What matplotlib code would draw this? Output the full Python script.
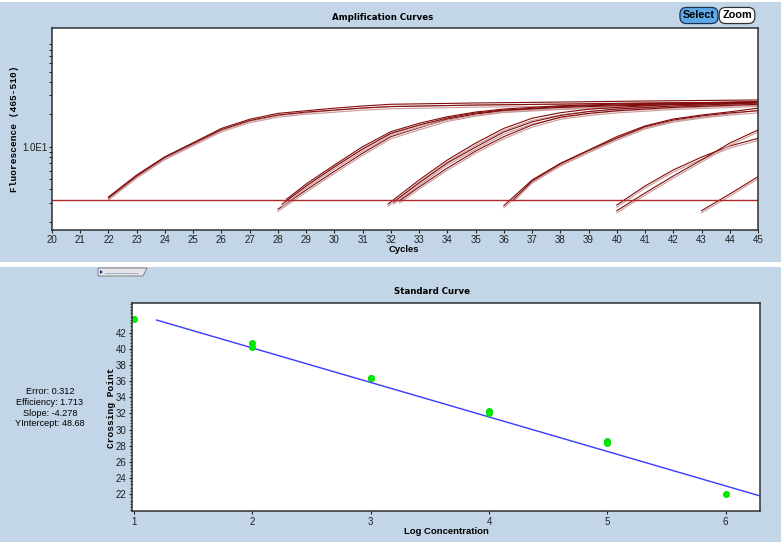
import matplotlib
matplotlib.use("Agg")
import matplotlib.pyplot as plt
from matplotlib.patches import Rectangle, Polygon
from matplotlib.ticker import FixedLocator, LogLocator, MultipleLocator, NullFormatter

plt.rcParams["font.family"] = ["Liberation Sans", "DejaVu Sans"]

W, H = 783, 545

# --- amplification curves (cycle, fluorescence) ---
cyc_a1 = [22.0, 23, 24, 25, 26, 27, 28, 29, 30, 31, 32, 35, 38, 41, 45]
flu_a1 = [3.41, 5.46, 8.07, 10.9, 14.8, 18.0, 20.4, 21.6, 22.8, 23.9, 24.8, 25.5, 26.0, 26.6, 27.2]
cyc_a2 = [22.0, 23, 24, 25, 26, 27, 28, 29, 30, 31, 32, 35, 38, 41, 45]
flu_a2 = [3.34, 5.34, 7.95, 10.7, 14.4, 17.5, 19.7, 21.0, 21.9, 22.9, 23.6, 24.4, 24.9, 25.5, 26.0]

cyc_b1 = [28.3, 29, 30, 31, 32, 33, 34, 35, 36, 38, 40, 45]
flu_b1 = [3.24, 4.50, 6.76, 10.0, 13.8, 16.5, 19.0, 21.0, 22.4, 24.0, 24.9, 26.2]
cyc_b2 = [28.0, 29, 30, 31, 32, 33, 34, 35, 36, 38, 40, 45]
flu_b2 = [2.62, 3.96, 5.90, 8.70, 12.4, 15.0, 18.0, 20.1, 21.8, 23.2, 24.0, 25.5]
cyc_b3 = [28.15, 29, 30, 31, 32, 33, 34, 35, 36, 38, 40, 45]
flu_b3 = [2.93, 4.31, 6.50, 9.50, 13.3, 15.9, 18.5, 20.6, 21.9, 23.6, 24.5, 25.8]

cyc_c1 = [31.9, 33, 34, 35, 36, 37, 38, 39, 40, 42, 45]
flu_c1 = [2.93, 4.90, 7.52, 10.8, 14.8, 18.4, 20.7, 22.3, 23.2, 24.8, 26.2]
cyc_c2 = [32.1, 33, 34, 35, 36, 37, 38, 39, 40, 42, 45]
flu_c2 = [3.06, 4.60, 7.06, 9.90, 13.7, 17.0, 19.5, 21.2, 22.4, 23.9, 25.5]
cyc_c3 = [32.3, 33, 34, 35, 36, 37, 38, 39, 40, 42, 45]
flu_c3 = [3.13, 4.22, 6.34, 9.10, 12.4, 15.9, 18.8, 20.4, 21.6, 23.2, 24.8]

cyc_d1 = [36.0, 37, 38, 39, 40, 41, 42, 43, 44, 45]
flu_d1 = [2.83, 4.90, 7.00, 9.30, 12.4, 15.6, 18.1, 19.7, 21.1, 22.8]
cyc_d2 = [36.35, 37, 38, 39, 40, 41, 42, 43, 44, 45]
flu_d2 = [3.24, 4.80, 6.91, 9.20, 12.0, 15.3, 17.7, 19.3, 20.6, 21.6]

cyc_e1 = [40.0, 41, 42, 43, 44, 45]
flu_e1 = [2.87, 4.31, 6.08, 8.00, 10.15, 11.95]
cyc_e2 = [40.0, 41, 42, 43, 44, 45]
flu_e2 = [2.54, 3.71, 5.34, 7.52, 10.8, 14.3]

cyc_f1 = [43.0, 44, 45]
flu_f1 = [2.54, 3.63, 5.26]

threshold = 3.2

curves = [(cyc_a1, flu_a1), (cyc_a2, flu_a2), (cyc_b1, flu_b1), (cyc_b2, flu_b2),
          (cyc_b3, flu_b3), (cyc_c1, flu_c1), (cyc_c2, flu_c2), (cyc_c3, flu_c3),
          (cyc_d1, flu_d1), (cyc_d2, flu_d2), (cyc_e1, flu_e1), (cyc_e2, flu_e2),
          (cyc_f1, flu_f1)]

# --- standard curve ---
log_conc = [1, 2, 2, 3, 3, 4, 4, 5, 5, 6]
cross_pt = [43.75, 40.75, 40.3, 36.45, 36.35, 32.25, 32.1, 28.55, 28.35, 21.95]
fit_x = [1.19, 6.28]
fit_y = [43.59, 21.81]
stats = ["Error: 0.312", "Efficiency: 1.713", "Slope: -4.278", "YIntercept: 48.68"]


def fx(px):
    return px / W


def fy(py):
    return 1 - py / H


fig = plt.figure(figsize=(W / 100, H / 100), dpi=100, facecolor="white")

# blue panels behind both plots
panel = "#c3d6e7"
for y0, y1 in [(2, 262), (267, 542)]:
    fig.add_artist(Rectangle((fx(0), fy(y1)), fx(781), (y1 - y0) / H,
                             transform=fig.transFigure, fc=panel, ec="none", zorder=-2))

# ---------------- top: amplification curves ----------------
ax = fig.add_axes([fx(52), fy(230), fx(758) - fx(52), (230 - 28) / H])
ax.set_yscale("log")
for cyc, flu in curves:
    # pale twin under each trace, like the instrument's rendering
    ax.plot(cyc, [v * 0.955 for v in flu], color="#c99a9a", lw=0.8)
    ax.plot(cyc, flu, color="#820c0c", lw=0.8)
ax.axhline(threshold, color="#b02828", lw=1.0)

ax.set_xlim(20, 45)
ax.set_ylim(1.68, 127)
ax.xaxis.set_major_locator(MultipleLocator(1))
ax.yaxis.set_major_locator(FixedLocator([10]))
ax.set_yticklabels(["1.0E1"])
ax.yaxis.set_minor_locator(LogLocator(subs=range(2, 10)))
ax.yaxis.set_minor_formatter(NullFormatter())
ax.tick_params(labelsize=7.0, length=2.5, width=0.8, pad=1.0, colors="#202020")
ax.tick_params(which="minor", length=2.5, width=0.6)
for s in ax.spines.values():
    s.set_color("#303030")
    s.set_linewidth(1.1)

fig.text(fx(383), fy(17), "Amplification Curves", ha="center", va="center",
         fontsize=6.2, fontweight="bold", family="DejaVu Sans")
fig.text(fx(404), fy(250), "Cycles", ha="center", va="center",
         fontsize=6.8, fontweight="bold")
fig.text(fx(15), fy(129), "Fluorescence (465-510)", ha="center", va="center",
         rotation=90, fontsize=6.8, fontweight="bold", family="Liberation Mono")

# Select / Zoom buttons
fig.text(fx(699), fy(15.5), "Select", ha="center", va="center", fontsize=7.8,
         fontweight="bold", bbox=dict(boxstyle="round,pad=0.28,rounding_size=0.6",
                                      fc="#5ea9e8", ec="#1a3050", lw=0.9))
fig.text(fx(737), fy(15.5), "Zoom", ha="center", va="center", fontsize=7.8,
         fontweight="bold", bbox=dict(boxstyle="round,pad=0.28,rounding_size=0.6",
                                      fc="white", ec="#303030", lw=0.9))

# ---------------- bottom: standard curve ----------------
bx = fig.add_axes([fx(132), fy(511), fx(760) - fx(132), (511 - 303) / H])
bx.plot(fit_x, fit_y, color="#3a3aff", lw=1.0)
bx.plot(log_conc, cross_pt, "o", color="#00f000", ms=4.0, mec="#00e000")
bx.set_xlim(0.983, 6.29)
bx.set_ylim(19.9, 45.7)
bx.xaxis.set_major_locator(MultipleLocator(1))
bx.yaxis.set_major_locator(FixedLocator(list(range(22, 43, 2))))
bx.yaxis.set_minor_locator(MultipleLocator(0.4))
bx.tick_params(labelsize=7.0, length=2.5, width=0.8, pad=1.5, colors="#202020")
bx.tick_params(axis="y", which="minor", length=1.5, width=0.5)
for s in bx.spines.values():
    s.set_color("#303030")
    s.set_linewidth(1.1)

fig.text(fx(432), fy(292), "Standard Curve", ha="center", va="center",
         fontsize=6.2, fontweight="bold", family="DejaVu Sans")
fig.text(fx(446), fy(531), "Log Concentration", ha="center", va="center",
         fontsize=6.8, fontweight="bold")
fig.text(fx(112), fy(408), "Crossing Point", ha="center", va="center",
         rotation=90, fontsize=6.8, fontweight="bold", family="Liberation Mono")

for i, line in enumerate(stats):
    fig.text(fx(50), fy(392 + 10.5 * i), line, ha="center", va="center", fontsize=6.6)

# little tab on top of the lower panel
fig.add_artist(Polygon([(fx(98), fy(268)), (fx(147), fy(268)), (fx(143), fy(276)),
                        (fx(98), fy(276))], closed=True, transform=fig.transFigure,
                       fc="#e6e6ea", ec="#707070", lw=0.6))
fig.add_artist(Polygon([(fx(100), fy(270)), (fx(100), fy(274)), (fx(103), fy(272))],
                       closed=True, transform=fig.transFigure, fc="#1a2a8a", ec="none"))
fig.add_artist(plt.Line2D([fx(105), fx(138)], [fy(272.5), fy(272.5)],
                          transform=fig.transFigure, color="#4060a0", lw=0.6, ls=(0, (1, 1))))

fig.savefig("out.png", dpi=100, facecolor=fig.get_facecolor())
